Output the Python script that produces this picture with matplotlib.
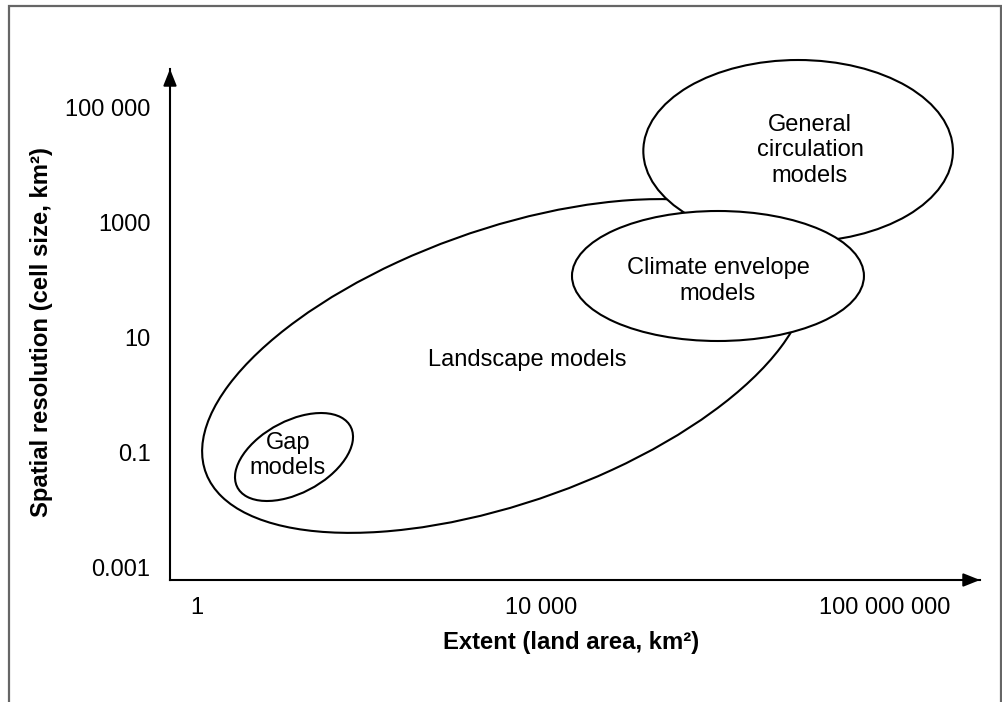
import matplotlib
matplotlib.use("Agg")
import matplotlib.pyplot as plt
from matplotlib.patches import Ellipse, Rectangle

plt.rcParams["font.family"] = ["Liberation Sans", "DejaVu Sans"]

# axes in log10 units
x_ticks = [0, 4, 8]
x_tick_labels = ["1", "10 000", "100 000 000"]
y_ticks = [-3, -1, 1, 3, 5]
y_tick_labels = ["0.001", "0.1", "10", "1000", "100 000"]

# model domains (log10 extent, log10 resolution)
model_names = ["Landscape models", "Gap\nmodels", "General\ncirculation\nmodels",
               "Climate envelope\nmodels"]
center_x = [3.58, 1.128, 6.99, 6.058]
center_y = [0.496, -1.087, 4.235, 2.061]
widths = [8.0, 1.761, 3.60, 3.395]
heights = [4.39, 1.060, 3.165, 2.261]
angles = [34.6, 51.7, 0, 0]
label_x = [3.837, 1.058, 7.128, 6.058]
label_y = [0.6, -1.06, 4.25, 1.974]

fig = plt.figure(figsize=(10.03, 7.02), dpi=100)

# grey frame around the figure
fig.patches.append(Rectangle((9 / 1003, -0.02), 992 / 1003, 1.02 - 6 / 702,
                             transform=fig.transFigure, fill=False,
                             edgecolor="#666666", linewidth=1.6))

ax = fig.add_axes([170 / 1003, 1 - 580 / 702, 810 / 1003, 511 / 702])
ax.set_xlim(-0.314, 9.105)
ax.set_ylim(-3.226, 5.661)

for s in ["top", "right"]:
    ax.spines[s].set_visible(False)
for s in ["left", "bottom"]:
    ax.spines[s].set_linewidth(1.5)

arrow = dict(arrowstyle="-|>,head_length=1.0,head_width=0.4", color="black",
             lw=1.5, shrinkA=0, shrinkB=0)
ax.annotate("", xy=(0, 1), xytext=(0, 0.98), xycoords="axes fraction",
            arrowprops=arrow)
ax.annotate("", xy=(1, 0), xytext=(0.98, 0), xycoords="axes fraction",
            arrowprops=arrow)

ax.set_xticks(x_ticks)
ax.set_xticklabels(x_tick_labels, fontsize=17)
ax.set_yticks(y_ticks)
ax.set_yticklabels(y_tick_labels, fontsize=17)
ax.tick_params(axis="both", length=0)
ax.tick_params(axis="x", pad=12)
ax.tick_params(axis="y", pad=14)

ax.set_xlabel("Extent (land area, km²)", fontsize=17.2, fontweight="bold")
ax.set_ylabel("Spatial resolution (cell size, km²)", fontsize=17.2,
              fontweight="bold")
ax.xaxis.set_label_coords(0.495, -0.1)
ax.yaxis.set_label_coords(-0.144, 0.485)

for i in range(len(model_names)):
    e = Ellipse((center_x[i], center_y[i]), widths[i], heights[i],
                angle=angles[i], facecolor="white", edgecolor="black",
                linewidth=1.5, zorder=2 + i, clip_on=False)
    ax.add_patch(e)
    ax.text(label_x[i], label_y[i], model_names[i], ha="center", va="center",
            fontsize=17, zorder=2 + i, linespacing=1.2)

plt.savefig("out.png", dpi=100)
